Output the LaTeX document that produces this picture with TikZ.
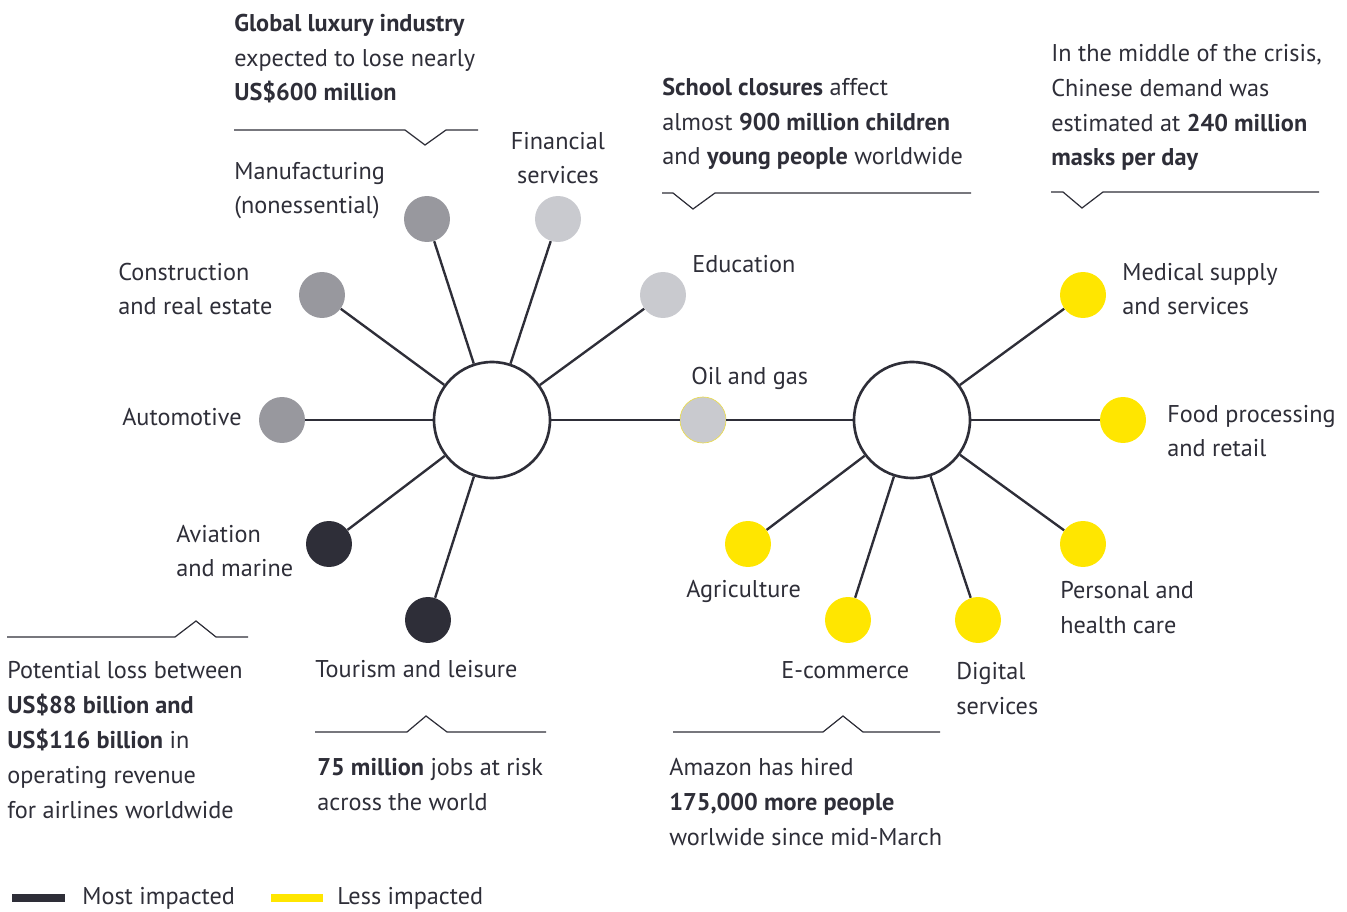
\documentclass[tikz,border=0pt]{standalone}
\usepackage{fontspec}
\setmainfont{PT Sans}
\usepackage{tikz}
\usetikzlibrary{shapes}

\definecolor{eydark}{HTML}{2E2E38}
\definecolor{eygrey}{HTML}{98989E}
\definecolor{eylight}{HTML}{C9CACF}
\definecolor{eyyellow}{HTML}{FFE600}
\newcommand\lbltext{\fontsize{13.8}{19.85}\selectfont}

\tikzset{
  hub/.style={circle, draw=eydark, line width=1.5pt, fill=white,
    minimum size=2.32cm, inner sep=0pt},
  sector/.style={circle, minimum size=0.92cm, inner sep=0pt},
  spoke/.style={draw=eydark, line width=1.35pt},
  lbl/.style={text=eydark, font=\lbltext, inner sep=0pt, align=left},
  callout/.style={draw=eydark, line width=0.7pt},
}

\begin{document}
\begin{tikzpicture}[x=0.02cm, y=-0.02cm]
  \useasboundingbox (0,0) rectangle (1347,912);

  % hubs
  \node[hub] (hubL) at (492,420) {};
  \node[hub] (hubR) at (912,420) {};

  % sectors, left hub
  \node[sector, fill=eygrey] (manuf) at (427,219) {};
  \node[sector, fill=eylight] (finance) at (558,219) {};
  \node[sector, fill=eygrey] (constr) at (322,295) {};
  \node[sector, fill=eylight] (educ) at (663,295) {};
  \node[sector, fill=eygrey] (auto) at (282,420) {};
  \node[sector, fill=eylight, draw=eyyellow!60!eylight, line width=0.4pt] (oil) at (703,420) {};
  \node[sector, fill=eydark] (aviation) at (329,544) {};
  \node[sector, fill=eydark] (tourism) at (428,620) {};

  % sectors, right hub
  \node[sector, fill=eyyellow] (medical) at (1083,295) {};
  \node[sector, fill=eyyellow] (food) at (1123,420) {};
  \node[sector, fill=eyyellow] (personal) at (1083,544) {};
  \node[sector, fill=eyyellow] (agri) at (748,544) {};
  \node[sector, fill=eyyellow] (ecom) at (848,620) {};
  \node[sector, fill=eyyellow] (digital) at (978,620) {};

  % spokes
  \foreach \s in {manuf,finance,constr,educ,auto,oil,aviation,tourism}
    \draw[spoke] (hubL) -- (\s);
  \foreach \s in {oil,medical,food,personal,agri,ecom,digital}
    \draw[spoke] (hubR) -- (\s);

  % sector labels (base = last line)
  \node[lbl, anchor=base west] (lmanuf) at (234,214) {Manufacturing\\(nonessential)};
  \node[lbl, anchor=base, align=center] (lfinance) at (558,184) {Financial\\services};
  \node[lbl, anchor=base west] (lconstr) at (118,315) {Construction\\and real estate};
  \node[lbl, anchor=base west] (leduc) at (692,273) {Education};
  \node[lbl, anchor=base east] (lauto) at (242,426) {Automotive};
  \node[lbl, anchor=base west] (loil) at (691,385) {Oil and gas};
  \node[lbl, anchor=base west] (laviation) at (176,577) {Aviation\\and marine};
  \node[lbl, anchor=base west] (ltourism) at (315,677) {Tourism and leisure};
  \node[lbl, anchor=base west] (lmedical) at (1122,315) {Medical supply\\and services};
  \node[lbl, anchor=base west] (lfood) at (1167,457) {Food processing\\and retail};
  \node[lbl, anchor=base west] (lpersonal) at (1060,633) {Personal and\\health care};
  \node[lbl, anchor=base west] (lagri) at (686,598) {Agriculture};
  \node[lbl, anchor=base west] (lecom) at (781,678) {E-commerce};
  \node[lbl, anchor=base west] (ldigital) at (956,714) {Digital\\services};

  % facts
  \node[lbl, anchor=base west] (fluxury) at (234,101)
    {\textbf{Global luxury industry}\\expected to lose nearly\\\textbf{US\$600 million}};
  \node[lbl, anchor=base west] (fschool) at (662,165)
    {\textbf{School closures} affect\\almost \textbf{900 million children}\\and \textbf{young people} worldwide};
  \node[lbl, anchor=base west] (fmasks) at (1051,166)
    {In the middle of the crisis,\\Chinese demand was\\estimated at \textbf{240 million}\\\textbf{masks per day}};
  \node[lbl, anchor=base west] (fairline) at (7,818)
    {Potential loss between\\\textbf{US\$88 billion and}\\\textbf{US\$116 billion} in\\operating revenue\\for airlines worldwide};
  \node[lbl, anchor=base west] (fjobs) at (317,810)
    {\textbf{75 million} jobs at risk\\across the world};
  \node[lbl, anchor=base west] (famazon) at (669,845)
    {Amazon has hired\\\textbf{175,000 more people}\\worlwide since mid-March};

  % callout rules
  \draw[callout] (234,130) -- (405,130) -- (425,145) -- (446,130) -- (478,130);
  \draw[callout] (662,193) -- (673,193) -- (693,209) -- (715,193) -- (971,193);
  \draw[callout] (1051,192) -- (1063,192) -- (1082,208) -- (1103,192) -- (1319,192);
  \draw[callout] (7,637) -- (175,637) -- (196,621) -- (216,637) -- (248,637);
  \draw[callout] (315,732) -- (407,732) -- (426,716) -- (447,732) -- (546,732);
  \draw[callout] (673,732) -- (823,732) -- (843,716) -- (863,732) -- (940,732);

  % legend
  \draw[eydark, line width=4pt] (12,898) coordinate (mostA) -- (65,898) coordinate (mostB);
  \node[lbl, anchor=base west] (lmost) at (82,904) {Most impacted};
  \draw[eyyellow, line width=4pt] (271,898) coordinate (lessA) -- (323,898) coordinate (lessB);
  \node[lbl, anchor=base west] (lless) at (337,904) {Less impacted};
\end{tikzpicture}
\end{document}
